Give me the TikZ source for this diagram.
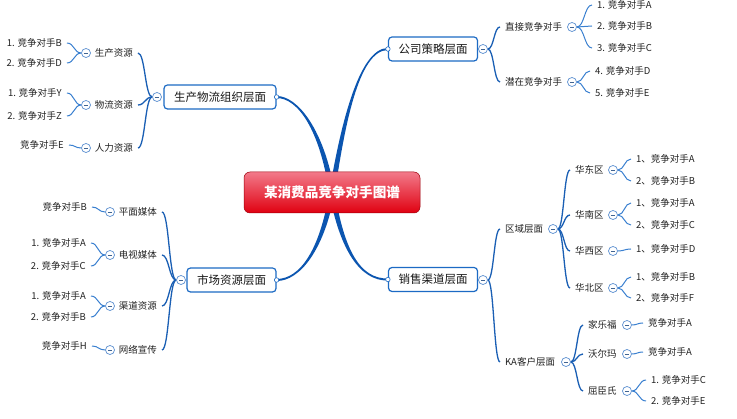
\documentclass[tikz,border=0pt]{standalone}
\usepackage{fontspec}
\setmainfont{Noto Sans CJK SC}
\usetikzlibrary{calc}
\pgfdeclarelayer{bg}
\pgfdeclarelayer{paper}
\pgfsetlayers{paper,bg,main}
\definecolor{mainblue}{HTML}{0B55B0}
\definecolor{lineblue}{HTML}{1A5FB4}
\definecolor{lightblue}{HTML}{3A80D0}
\definecolor{circblue}{HTML}{5B8FD0}
\definecolor{txt}{HTML}{222222}
\definecolor{boxblue}{HTML}{1C6AC4}
\definecolor{redtop}{HTML}{F27A8A}
\definecolor{redmid}{HTML}{E8142E}
\definecolor{redbot}{HTML}{E00010}
\newcommand\conn[3]{%
  \path ($(#2)!0.5!(#3)$) coordinate (cmid);
  \draw[#1] (#2) .. controls (cmid |- #2) and (cmid |- #3) .. (#3);}
\newcommand\taper[6]{%
  \fill[mainblue] ($(#1)+(-2.8,0)$) .. controls ($(#2)+(-2.2,0)$) and ($(#3)+(#5)$) .. ($(#4)+(#5)$)
   -- ($(#4)+(#6)$) .. controls ($(#3)+(#6)$) and ($(#2)+(2.2,0)$) .. ($(#1)+(2.8,0)$) -- cycle;}
\tikzset{
  rootbox/.style={rounded corners=6pt, draw=redbot!70!black, line width=0.5pt,
    top color=redtop, middle color=redmid, bottom color=redbot, text=white,
    font=\fontsize{13.6}{15}\selectfont\bfseries, minimum width=176pt, minimum height=41pt},
  l1box/.style={draw=boxblue, line width=1.2pt, rounded corners=3.5pt, fill=white,
    font=\fontsize{11.5}{13}\selectfont, text=black!90, inner xsep=10pt, minimum height=24pt},
  lbl/.style={font=\fontsize{9.5}{11}\selectfont, text=txt, inner xsep=5pt, inner ysep=1pt},
  col/.style={circle, draw=circblue, fill=white, line width=0.7pt, minimum size=9pt, inner sep=0pt,
    path picture={\draw[circblue!70!black, line width=0.6pt]
      ($(path picture bounding box.center)+(-2.2pt,0)$) -- ($(path picture bounding box.center)+(2.2pt,0)$);}},
  knob/.style={circle, draw=boxblue, fill=white, line width=0.6pt, minimum size=4.5pt, inner sep=0pt},
  conA/.style={draw=lineblue, line width=1.3pt},
  conB/.style={draw=lightblue, line width=1.0pt}
}
\begin{document}
\begin{tikzpicture}[x=1pt,y=-1pt]
\begin{pgfonlayer}{paper}
\fill[white] (0,0) rectangle (737,419);
\end{pgfonlayer}
\useasboundingbox (0,0) rectangle (737,419);

% root and level 1
\node[rootbox] (root) at (332,192.5) {某消费品竞争对手图谱};
\node[l1box] (A) at (220,97) {生产物流组织层面};
\node[l1box] (B) at (433,49) {公司策略层面};
\node[l1box] (C) at (231.5,280) {市场资源层面};
\node[l1box] (D) at (433,279.5) {销售渠道层面};
\node[knob] (kA) at (A.east) {};
\node[knob] (kB) at (B.west) {};
\node[knob] (kC) at (C.east) {};
\node[knob] (kD) at (D.west) {};
\node[col] (oA) at (157,97) {};
\node[col] (oB) at (483,49) {};
\node[col] (oC) at (181,280) {};
\node[col] (oD) at (483,280) {};

% group A
\node[lbl,anchor=east] (A1) at (138,53) {生产资源};
\node[lbl,anchor=east] (A2) at (138,105) {物流资源};
\node[lbl,anchor=east] (A3) at (138,148) {人力资源};
\node[col] (oA1) at (86,53) {};
\node[col] (oA2) at (86,105) {};
\node[col] (oA3) at (86,148) {};
\node[lbl,anchor=east] (A11) at (67,43) {1. 竞争对手B};
\node[lbl,anchor=east] (A12) at (67,63) {2. 竞争对手D};
\node[lbl,anchor=east] (A21) at (67,93) {1. 竞争对手Y};
\node[lbl,anchor=east] (A22) at (67,116) {2. 竞争对手Z};
\node[lbl,anchor=east] (A31) at (69,145) {竞争对手E};

% group B
\node[lbl,anchor=west] (B1) at (500,27) {直接竞争对手};
\node[lbl,anchor=west] (B2) at (500,82) {潜在竞争对手};
\node[col] (oB1) at (572,27) {};
\node[col] (oB2) at (572,82) {};
\node[lbl,anchor=west] (B11) at (592,5) {1. 竞争对手A};
\node[lbl,anchor=west] (B12) at (592,26) {2. 竞争对手B};
\node[lbl,anchor=west] (B13) at (592,48) {3. 竞争对手C};
\node[lbl,anchor=west] (B21) at (590,71) {4. 竞争对手D};
\node[lbl,anchor=west] (B22) at (590,93) {5. 竞争对手E};

% group C
\node[lbl,anchor=east] (C1) at (162,212) {平面媒体};
\node[lbl,anchor=east] (C2) at (162,255) {电视媒体};
\node[lbl,anchor=east] (C3) at (162,306) {渠道资源};
\node[lbl,anchor=east] (C4) at (162,350) {网络宣传};
\node[col] (oC1) at (110,212) {};
\node[col] (oC2) at (110,255) {};
\node[col] (oC3) at (110,306) {};
\node[col] (oC4) at (110,350) {};
\node[lbl,anchor=east] (C11) at (92,207) {竞争对手B};
\node[lbl,anchor=east] (C21) at (91,243) {1. 竞争对手A};
\node[lbl,anchor=east] (C22) at (91,266) {2. 竞争对手C};
\node[lbl,anchor=east] (C31) at (91,296) {1. 竞争对手A};
\node[lbl,anchor=east] (C32) at (91,317) {2. 竞争对手B};
\node[lbl,anchor=east] (C41) at (92,346) {竞争对手H};

% group D
\node[lbl,anchor=west] (D1) at (500,229) {区域层面};
\node[lbl,anchor=west] (D2) at (500,362) {KA客户层面};
\node[col] (oD1) at (553,229) {};
\node[col] (oD2) at (566,362) {};
\node[lbl,anchor=west] (D11) at (570,170) {华东区};
\node[lbl,anchor=west] (D12) at (570,215) {华南区};
\node[lbl,anchor=west] (D13) at (570,251) {华西区};
\node[lbl,anchor=west] (D14) at (570,288) {华北区};
\node[col] (oD11) at (613,170) {};
\node[col] (oD12) at (613,215) {};
\node[col] (oD13) at (613,251) {};
\node[col] (oD14) at (613,288) {};
\node[lbl,anchor=west] (D111) at (631,159) {1、竞争对手A};
\node[lbl,anchor=west] (D112) at (631,181) {2、竞争对手B};
\node[lbl,anchor=west] (D121) at (631,203) {1、竞争对手A};
\node[lbl,anchor=west] (D122) at (631,225) {2、竞争对手C};
\node[lbl,anchor=west] (D131) at (631,249) {1、竞争对手D};
\node[lbl,anchor=west] (D141) at (631,277) {1、竞争对手B};
\node[lbl,anchor=west] (D142) at (631,298) {2、竞争对手F};
\node[lbl,anchor=west] (D21) at (583,325) {家乐福};
\node[lbl,anchor=west] (D22) at (583,354) {沃尔玛};
\node[lbl,anchor=west] (D23) at (583,391) {屈臣氏};
\node[col] (oD21) at (627,325) {};
\node[col] (oD22) at (627,354) {};
\node[col] (oD23) at (627,391) {};
\node[lbl,anchor=west] (D211) at (643,323) {竞争对手A};
\node[lbl,anchor=west] (D221) at (643,352) {竞争对手A};
\node[lbl,anchor=west] (D231) at (646,380) {1. 竞争对手C};
\node[lbl,anchor=west] (D232) at (646,401) {2. 竞争对手E};

\begin{pgfonlayer}{bg}
% main tapered branches
\coordinate (tA1) at (322,130); \coordinate (tA2) at (298,97);
\coordinate (tB1) at (342,130); \coordinate (tB2) at (358,49);
\coordinate (tC1) at (322,250); \coordinate (tC2) at (300,280);
\coordinate (tD1) at (342,250); \coordinate (tD2) at (360,280);
\taper{root.center}{tA1}{tA2}{kA.center}{0,1}{0,-1}
\taper{root.center}{tB1}{tB2}{kB.center}{0,-1}{0,1}
\taper{root.center}{tC1}{tC2}{kC.center}{0,-1}{0,1}
\taper{root.center}{tD1}{tD2}{kD.center}{0,1}{0,-1}

% group A connectors
\conn{conA}{oA.west}{A1.east}
\conn{conA}{oA.west}{A2.east}
\conn{conA}{oA.west}{A3.east}
\conn{conB}{oA1.west}{A11.east}
\conn{conB}{oA1.west}{A12.east}
\conn{conB}{oA2.west}{A21.east}
\conn{conB}{oA2.west}{A22.east}
\conn{conB}{oA3.west}{A31.east}
% group B
\conn{conA}{oB.east}{B1.west}
\conn{conA}{oB.east}{B2.west}
\conn{conB}{oB1.east}{B11.west}
\conn{conB}{oB1.east}{B12.west}
\conn{conB}{oB1.east}{B13.west}
\conn{conB}{oB2.east}{B21.west}
\conn{conB}{oB2.east}{B22.west}
% group C
\conn{conA}{oC.west}{C1.east}
\conn{conA}{oC.west}{C2.east}
\conn{conA}{oC.west}{C3.east}
\conn{conA}{oC.west}{C4.east}
\conn{conB}{oC1.west}{C11.east}
\conn{conB}{oC2.west}{C21.east}
\conn{conB}{oC2.west}{C22.east}
\conn{conB}{oC3.west}{C31.east}
\conn{conB}{oC3.west}{C32.east}
\conn{conB}{oC4.west}{C41.east}
% group D
\conn{conA}{oD.east}{D1.west}
\conn{conA}{oD.east}{D2.west}
\conn{conA}{oD1.east}{D11.west}
\conn{conA}{oD1.east}{D12.west}
\conn{conA}{oD1.east}{D13.west}
\conn{conA}{oD1.east}{D14.west}
\conn{conB}{oD11.east}{D111.west}
\conn{conB}{oD11.east}{D112.west}
\conn{conB}{oD12.east}{D121.west}
\conn{conB}{oD12.east}{D122.west}
\conn{conB}{oD13.east}{D131.west}
\conn{conB}{oD14.east}{D141.west}
\conn{conB}{oD14.east}{D142.west}
\conn{conA}{oD2.east}{D21.west}
\conn{conA}{oD2.east}{D22.west}
\conn{conA}{oD2.east}{D23.west}
\conn{conB}{oD21.east}{D211.west}
\conn{conB}{oD22.east}{D221.west}
\conn{conB}{oD23.east}{D231.west}
\conn{conB}{oD23.east}{D232.west}
\end{pgfonlayer}
\end{tikzpicture}
\end{document}
